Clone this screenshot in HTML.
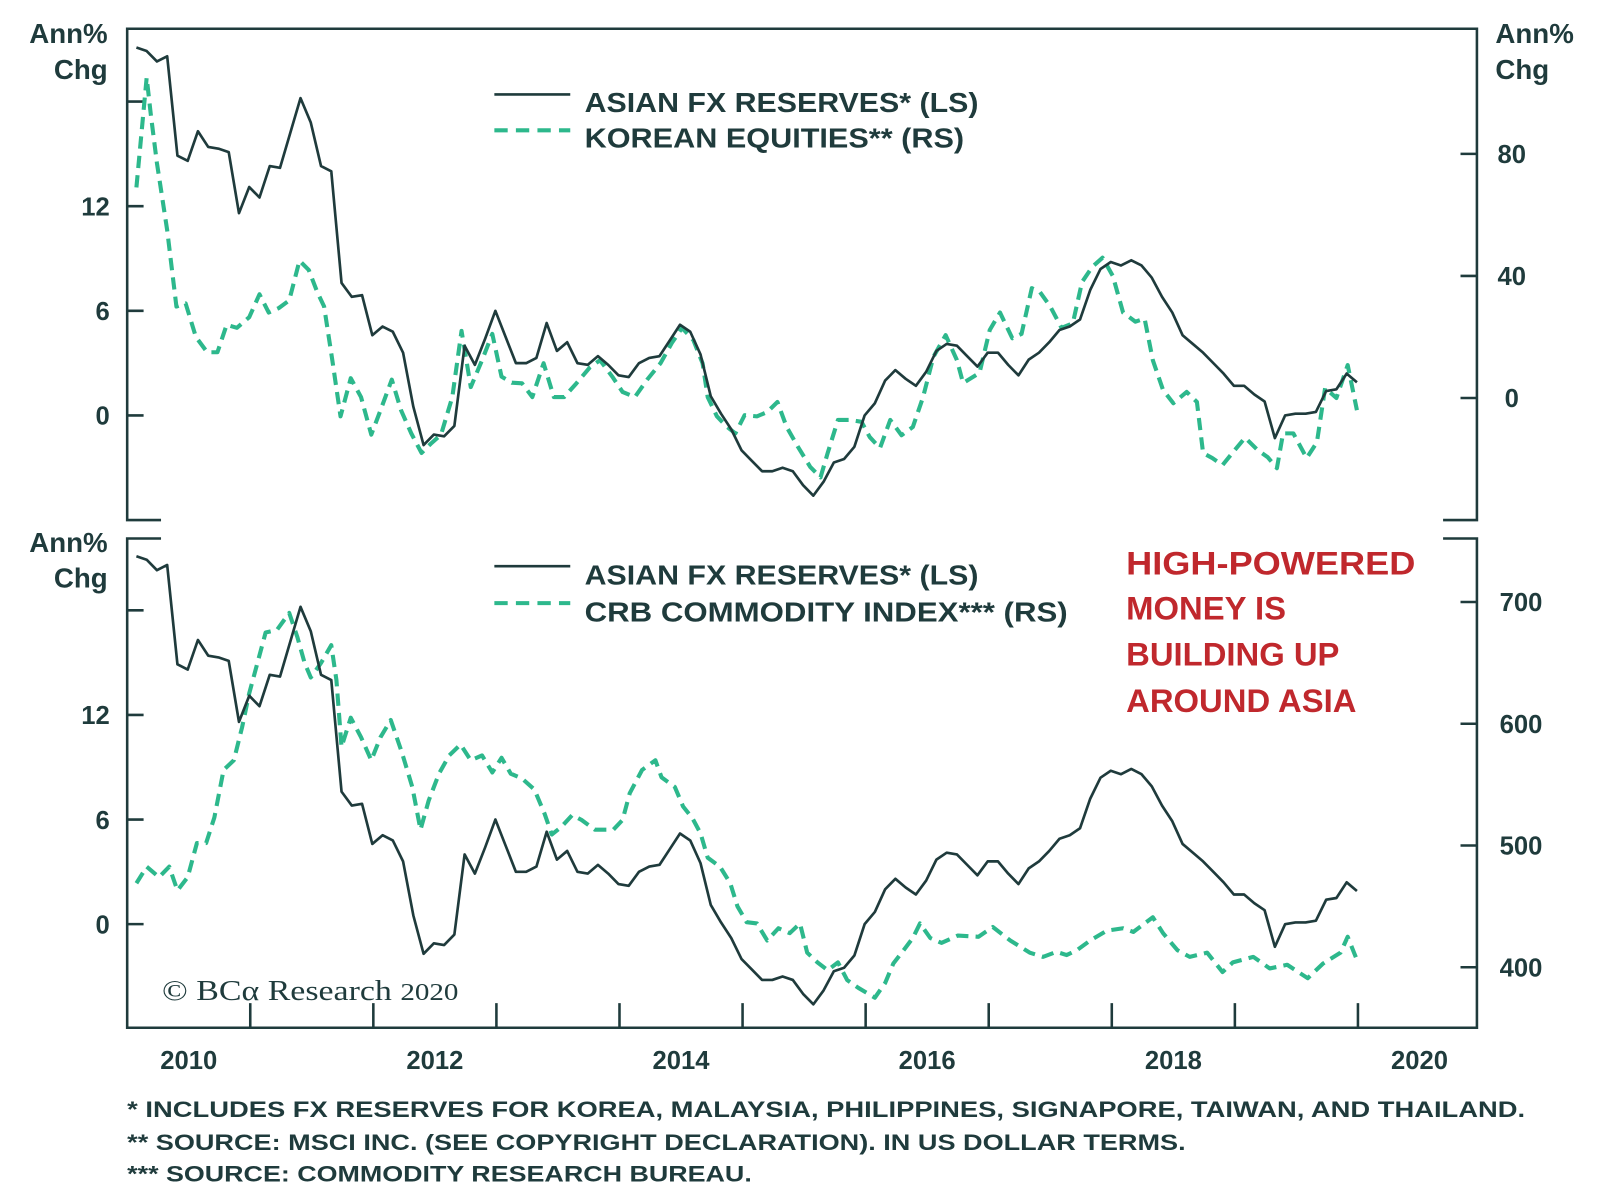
<!DOCTYPE html>
<html><head><meta charset="utf-8"><style>
html,body{margin:0;padding:0;background:#fff;}
svg{display:block;}
text{font-family:"Liberation Sans",sans-serif;fill:#1f3b3c;font-weight:bold;}
</style></head><body>
<svg id="chart" width="1600" height="1196" viewBox="0 0 1560 1166" xmlns="http://www.w3.org/2000/svg">
<g id="static" stroke="#1f3b3c" stroke-width="2.5" fill="none">
  <path d="M157,507 H124 V28 H1440 V507 H1407"/>
  <path d="M157,525 H124 V1002 H1440 V525 H1407"/>
</g>
<g id="axes"></g>
<g id="series"></g>
<g>
  <text x="105" y="42" font-size="27" text-anchor="end">Ann%</text>
  <text x="105" y="77" font-size="27" text-anchor="end">Chg</text>
  <text x="1458" y="42" font-size="27">Ann%</text>
  <text x="1458" y="77" font-size="27">Chg</text>
  <text x="105" y="538" font-size="27" text-anchor="end">Ann%</text>
  <text x="105" y="573" font-size="27" text-anchor="end">Chg</text>

  <line x1="482" y1="92" x2="556" y2="92" stroke="#1f3b3c" stroke-width="2.5"/>
  <line x1="482" y1="127" x2="556" y2="127" stroke="#2db88c" stroke-width="4" stroke-dasharray="13,8"/>
  <text x="570" y="109" font-size="27" textLength="384" lengthAdjust="spacingAndGlyphs">ASIAN FX RESERVES* (LS)</text>
  <text x="570" y="144" font-size="27" textLength="370" lengthAdjust="spacingAndGlyphs">KOREAN EQUITIES** (RS)</text>

  <line x1="482" y1="552" x2="556" y2="552" stroke="#1f3b3c" stroke-width="2.5"/>
  <line x1="482" y1="588" x2="556" y2="588" stroke="#2db88c" stroke-width="4" stroke-dasharray="13,8"/>
  <text x="570" y="570" font-size="27" textLength="384" lengthAdjust="spacingAndGlyphs">ASIAN FX RESERVES* (LS)</text>
  <text x="570" y="606" font-size="27" textLength="471" lengthAdjust="spacingAndGlyphs">CRB COMMODITY INDEX*** (RS)</text>

  <g font-size="32" style="fill:#c0282d">
    <text x="1098" y="560" textLength="282" lengthAdjust="spacingAndGlyphs" style="fill:#c0282d">HIGH-POWERED</text>
    <text x="1098" y="604" style="fill:#c0282d">MONEY IS</text>
    <text x="1098" y="649" style="fill:#c0282d">BUILDING UP</text>
    <text x="1098" y="694" style="fill:#c0282d">AROUND ASIA</text>
  </g>

  <text x="158" y="975" font-size="28" textLength="289" lengthAdjust="spacingAndGlyphs" style="font-family:'Liberation Serif',serif;font-weight:normal">© BCα Research <tspan font-size="24">2020</tspan></text>

  <text x="124" y="1089" font-size="22" textLength="1363" lengthAdjust="spacingAndGlyphs">*   INCLUDES FX RESERVES FOR KOREA, MALAYSIA, PHILIPPINES, SIGNAPORE, TAIWAN, AND THAILAND.</text>
  <text x="124" y="1121" font-size="22" textLength="1032" lengthAdjust="spacingAndGlyphs">**  SOURCE: MSCI INC. (SEE COPYRIGHT DECLARATION). IN US DOLLAR TERMS.</text>
  <text x="124" y="1152" font-size="22" textLength="609" lengthAdjust="spacingAndGlyphs">*** SOURCE: COMMODITY RESEARCH BUREAU.</text>
</g>
</svg>
<script>
// ---- data ----
const xYears = [2010, 2012, 2014, 2016, 2018, 2020];
const leftTicks = [0, 6, 12, 18];
const leftTickLabels = ["0", "6", "12", ""];
const koreaTicks = [0, 40, 80];
const crbTicks = [400, 500, 600, 700];
// Asian FX reserves, monthly from Jan 2010
const fxVals = [21.1,20.9,20.3,20.6,14.9,14.6,16.3,15.4,15.3,15.1,11.6,13.1,12.5,14.3,14.2,16.2,18.2,16.8,14.3,14.0,
 7.6,6.8,6.9,4.6,5.1,4.8,3.6,0.5,-1.7,-1.1,-1.2,-0.6,4.0,2.9,4.4,6.0,4.5,3.0,3.0,3.3,
 5.3,3.7,4.2,3.0,2.9,3.4,2.9,2.3,2.2,3.0,3.3,3.4,4.3,5.2,4.8,3.5,1.1,0.1,-0.8,-2.0,
 -2.6,-3.2,-3.2,-3.0,-3.2,-4.0,-4.6,-3.8,-2.7,-2.5,-1.8,0.0,0.7,2.0,2.6,2.1,1.7,2.5,3.7,4.1,
 4.0,3.4,2.8,3.6,3.6,2.9,2.3,3.2,3.6,4.2,4.9,5.1,5.5,7.2,8.4,8.8,8.6,8.9,8.6,7.9,
 6.8,5.9,4.6,4.1,3.6,3.0,2.4,1.7,1.7,1.2,0.8,-1.3,0.0,0.1,0.1,0.2,1.4,1.5,2.4,1.9];
// Korean equities (months since Jan 2010, value)
const keMonths = [0,1,1.4,2,3,3.9,4.8,5.8,6.9,7.9,8.8,9.8,11,12,12.9,13.9,14.9,15.9,16.8,17.6,18.3,19.1,19.9,20.9,21.9,22.9,23.8,24.9,25.8,26.8,27.8,28.7,29.7,30.8,31.7,32.6,33.7,34.7,35.6,36.6,37.6,38.6,39.7,40.7,41.7,42.9,44.2,45.2,46.4,47.4,48.6,49.8,51.1,52.2,53.2,54.3,55.2,55.7,56.6,57.6,58.4,59.3,60.5,61.5,62.5,63.4,64.5,65.7,66.7,67.4,68.4,69.6,70.7,71.5,72.5,73.5,74.6,75.7,76.7,77.7,78.9,80,80.6,82.2,83.2,84.2,85.4,86.3,87.3,88.1,89.1,90.2,91.3,92.2,93.2,94.2,95.2,96.2,97.4,98.3,99.1,100.1,101.1,102.4,103.4,104,104.9,105.9,107.1,108.1,109.3,110.3,111.2,111.8,112.8,114.1,115.1,115.9,117,118.1,119];
const keVals = [69,105,93,77,55,30,31,20,15,15,24,23,26.5,34,28,29.5,32,45,42,35,30,12.4,-6,6.5,0.3,-12,-4,6,-4,-11.6,-18,-15,-12,0.3,22,3.6,12.4,21,7,5,4.8,0.3,11.4,0.3,0.3,4.8,10,12.4,7,2,0.3,6,11.4,18,23,19,11.4,0.3,-6,-9.5,-11.6,-5.6,-6,-4.6,-1.3,-9.5,-16,-22.6,-26,-18,-7.2,-7.2,-7.8,-12.8,-16.4,-7.2,-12.2,-9.5,0.3,13.4,20.6,12.4,4.9,8.2,22.3,28,19.6,21,36,34.7,30,23,24.5,38,43,46,40,28,25,26,12.4,2.6,-1.7,2,-1.3,-18,-19.7,-22,-17,-13,-17,-19.4,-23,-11.6,-11.6,-19.7,-14.5,3.3,0,10.8,-4];
// CRB commodity index
const crbMonths = [0,1,2.2,3.2,4,5,5.9,6.8,7.6,8.5,9.5,10.3,11,11.8,12.6,13.7,14.9,15.7,16.4,17,18,19,19.5,20,20.9,21.9,22.9,23.8,24.8,25.9,26.9,27.7,28.5,29.5,30.5,31.6,32.6,33.7,34.7,35.6,36.5,37.6,38.8,39.8,40.5,41.4,42.5,43.4,44.7,46.5,47.4,48.1,49.3,50.6,51.2,52.5,53.3,54.2,55,55.7,56.9,57.9,58.6,59.5,60.5,61.5,62.6,63.7,64.7,65.4,66.4,67.4,68.4,69.3,70.4,72,73,73.8,74.8,75.7,76.4,77.4,78.5,80.1,82.1,83.5,85.2,87.1,88.4,89.7,90.7,91.7,93,94.6,96.2,97.2,99.1,100.1,101.5,102.7,104.4,105.9,106.9,108.9,110.5,112.2,114.2,115.7,117.4,118.1,119];
const crbVals = [469,482.6,474,482.6,463,474,502,502,523,562,570,597,625,650,675,677,691,671,650,638,650,664.5,636,581,605,589,570,589,603,576,548,513,537,559,574,583,570,574,560,572,559,555,546,526,509,515,525,521,513,513,521,543,562,570,556,548,532,522.6,510,490,482.6,469,450,437,436,422,432,428,436,412,404,397.5,404,389.5,383,375,387,403,414,424,436,424,420,426,425,433,422,412,408.5,412.6,410,414,422,430,432,429,441,428,414,408.5,412,396,404,408.5,399,402,391,403,412,425,406];

// ---- scales ----
const NS = "http://www.w3.org/2000/svg";
function xMonth(m){ return 124 + (m + 0.9) * 10; }
function xYearLabel(y){ return 124 + (y - 2010) * 120 + 60; }
function xYearTick(y){ return 124 + (y - 2010) * 120; }
function yFxTop(v){ return 405 - v * 17; }
function yFxBot(v){ return 901 - v * 17; }
function yKorea(v){ return 388 - v * 2.975; }
function yCrb(v){ return 943 - (v - 400) * 1.187; }

function mk(tag, attrs, parent){
  const el = document.createElementNS(NS, tag);
  for (const k in attrs) el.setAttribute(k, attrs[k]);
  parent.appendChild(el);
  return el;
}
const axes = document.getElementById('axes');
const series = document.getElementById('series');
const ink = "#1f3b3c";

leftTicks.forEach((t, i) => {
  [yFxTop(t), yFxBot(t)].forEach((y, j) => {
    const l = mk('line', {x1:124, x2:140, y1:y, y2:y, stroke:ink, 'stroke-width':2.5}, axes);
    
    
    if (leftTickLabels[i]) {
      const tx = mk('text', {x:107, y:y+9, 'font-size':25, 'text-anchor':'end'}, axes);
      tx.textContent = leftTickLabels[i];
      
      
    }
  });
});
koreaTicks.forEach(t => {
  const y = yKorea(t);
  const l = mk('line', {x1:1424, x2:1440, y1:y, y2:y, stroke:ink, 'stroke-width':2.5}, axes);
  
  
  const tx = mk('text', {x:1474, y:y+9, 'font-size':25, 'text-anchor':'middle'}, axes);
  tx.textContent = String(t);
  
  
});
crbTicks.forEach(t => {
  const y = yCrb(t);
  const l = mk('line', {x1:1424, x2:1440, y1:y, y2:y, stroke:ink, 'stroke-width':2.5}, axes);
  
  
  const tx = mk('text', {x:1483, y:y+9, 'font-size':25, 'text-anchor':'middle'}, axes);
  tx.textContent = String(t);
  
  
});
for (let y = 2011; y <= 2020; y++) {
  const x = xYearTick(y);
  const l = mk('line', {x1:x, x2:x, y1:978, y2:1002, stroke:ink, 'stroke-width':2.5}, axes);
  
  
}
xYears.forEach(y => {
  const tx = mk('text', {x:xYearLabel(y), y:1042, 'font-size':25, 'text-anchor':'middle'}, axes);
  tx.textContent = String(y);
  
  
});

function pathFrom(xs, ys){
  return xs.map((x, i) => (i ? 'L' : 'M') + x.toFixed(1) + ',' + ys[i].toFixed(1)).join('');
}
const fxX = fxVals.map((v, i) => xMonth(i));
const ke = mk('path', {d:pathFrom(keMonths.map(xMonth), keVals.map(yKorea)), fill:'none', stroke:'#2db88c', 'stroke-width':4, 'stroke-dasharray':'12,7', 'stroke-linejoin':'round'}, series);


const fx1 = mk('path', {d:pathFrom(fxX, fxVals.map(yFxTop)), fill:'none', stroke:ink, 'stroke-width':2.6, 'stroke-linejoin':'round'}, series);


const crb = mk('path', {d:pathFrom(crbMonths.map(xMonth), crbVals.map(yCrb)), fill:'none', stroke:'#2db88c', 'stroke-width':4, 'stroke-dasharray':'12,7', 'stroke-linejoin':'round'}, series);


const fx2 = mk('path', {d:pathFrom(fxX, fxVals.map(yFxBot)), fill:'none', stroke:ink, 'stroke-width':2.6, 'stroke-linejoin':'round'}, series);


</script>
</body></html>
